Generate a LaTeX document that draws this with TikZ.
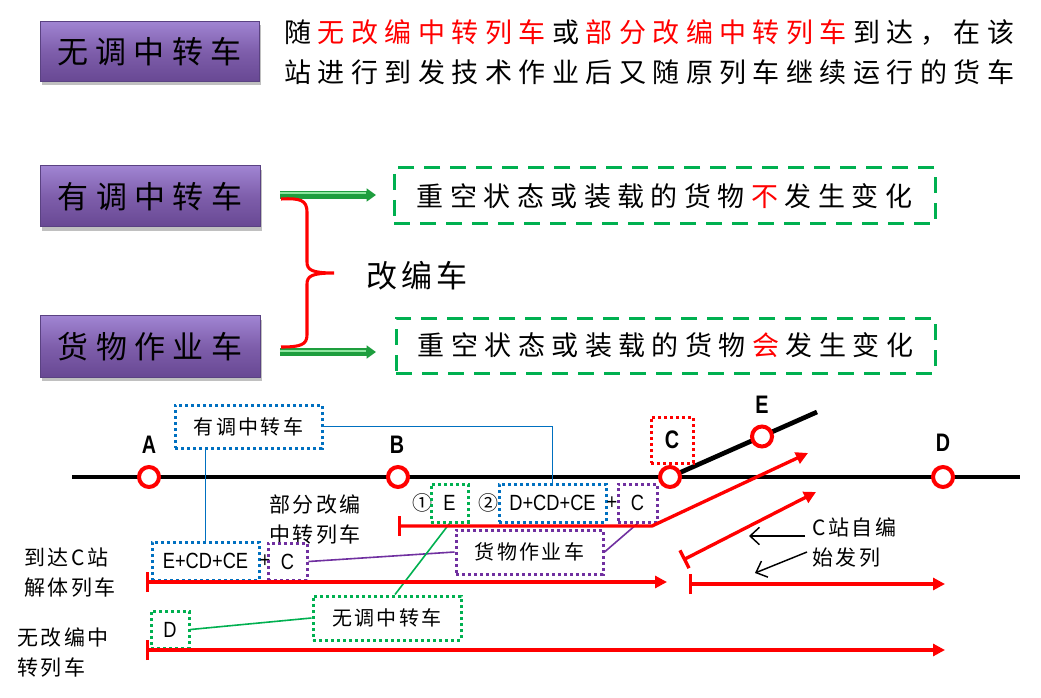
\documentclass[tikz,border=0pt]{standalone}
\usepackage{fontspec}
\usepackage{graphicx}
\usetikzlibrary{arrows.meta,shadows,calc}
\setmainfont{Noto Sans CJK SC}
\newfontfamily\cjkT[LetterSpace=24]{Noto Sans CJK SC}
\newfontfamily\cjkS[LetterSpace=12]{Noto Sans CJK SC}
\newfontfamily\latf{Liberation Sans}
\newcommand\narrowlat[1]{\scalebox{0.83}[1]{\latf #1}}
\newcommand\boldlat[1]{\scalebox{0.78}[1]{\latf\bfseries #1}}
\newcommand\lsk{\kern0.24em}
\definecolor{pTop}{HTML}{A084D2}
\definecolor{pMid}{HTML}{7E5EAB}
\definecolor{pBot}{HTML}{684893}
\definecolor{pBord}{HTML}{5A4282}
\definecolor{gGreen}{HTML}{00B050}
\definecolor{bBlue}{HTML}{0070C0}
\definecolor{pPurp}{HTML}{7030A0}
\definecolor{gDark}{HTML}{1E9E3E}
\definecolor{gLight}{HTML}{8EE6A0}
\tikzset{
 wh/.style 2 args={minimum width=#1*0.75pt, minimum height=#2*0.75pt, inner sep=0pt},
 pbox/.style={draw=pBord, line width=0.75pt, top color=pTop, bottom color=pBot, middle color=pMid,
   drop shadow={shadow xshift=1.5pt, shadow yshift=-3pt, opacity=0.35, fill=black!70},
   font=\cjkT\fontsize{23.25pt}{28pt}\selectfont},
 gdash/.style={draw=gGreen, line width=2.25pt, dash pattern=on 12pt off 7.5pt,
   font=\cjkT\fontsize{20.25pt}{24pt}\selectfont},
 dotbox/.style={draw=#1, line width=2.25pt, dash pattern=on 2.5pt off 2pt},
 cjklbl/.style={font=\cjkS\fontsize{15pt}{22.5pt}\selectfont},
 cjkmid/.style={font=\cjkS\fontsize{15.75pt}{22.5pt}\selectfont, align=left, inner sep=0pt},
 latlbl/.style={font=\fontsize{16.5pt}{20pt}\selectfont},
 stlbl/.style={font=\fontsize{19pt}{22pt}\selectfont},
 stn/.style={circle, draw=red, fill=white, line width=3pt, minimum size=15pt, inner sep=0pt},
 track/.style={line width=3.5pt, draw=black},
 redarr/.style={draw=red, line width=2.5pt, arrows={Bar[width=15pt]-Triangle[length=9pt,width=9pt]}},
 conn/.style={draw=#1, line width=1.2pt},
 blkarr/.style={draw=black, line width=1.1pt, -{Straight Barb[length=7pt,width=13pt]}},
 garr/.style={draw=gDark, line width=5.5pt, -{Triangle[length=7pt,width=9.5pt]}},
}
\begin{document}
\begin{tikzpicture}[x=0.75pt,y=-0.75pt]
\useasboundingbox (0,0) rectangle (1041,698);
\fill[white] (0,0) rectangle (1041,698);

% ---------- top part ----------
\node[pbox, wh={219}{60}] (pb1) at (149.5,51.5) {无调中转车};
\node[pbox, wh={220}{61}] (pb2) at (150,196.5) {有调中转车};
\node[pbox, wh={220}{61}] (pb3) at (150,346.5) {货物作业车};

\node[anchor=west, inner sep=0pt, font=\cjkT\fontsize{20.25pt}{24pt}\selectfont] (t1) at (284,33)
  {随\lsk\textcolor{red}{无改编中转列车}\lsk 或\lsk\textcolor{red}{部分改编中转列车}\lsk 到达，在该};
\node[anchor=west, inner sep=0pt, font=\cjkT\fontsize{20.25pt}{24pt}\selectfont] (t2) at (284,72)
  {站进行到发技术作业后又随原列车继续运行的货车};

\node[gdash, wh={541}{56}] (gb1) at (664.5,196) {重空状态或装载的货物\lsk\textcolor{red}{不}\lsk 发生变化};
\node[gdash, wh={539}{55}] (gb2) at (665.5,345.5) {重空状态或装载的货物\lsk\textcolor{red}{会}\lsk 发生变化};

\coordinate (ga1s) at (280,195);
\coordinate (ga1e) at (376,195);
\coordinate (ga2s) at (280,352);
\coordinate (ga2e) at (376,352);
\draw[garr] (ga1s) -- (ga1e);
\draw[draw=gLight, line width=1.5pt] ($(ga1s)+(0,-1.5)$) -- ($(ga1e)+(-10,-1.5)$);
\draw[garr] (ga2s) -- (ga2e);
\draw[draw=gLight, line width=1.5pt] ($(ga2s)+(0,-1.5)$) -- ($(ga2e)+(-10,-1.5)$);

% brace
\draw[red, line width=2.3pt]
  (281,199) .. controls (300,198) and (307,200) .. (307,212) -- (307,262)
  .. controls (307,270) and (312,273) .. (334,273)
  .. controls (312,273) and (307,276) .. (307,284) -- (307,335)
  .. controls (307,345) and (300,347) .. (281,347);
\node[font=\cjkS\fontsize{23.25pt}{28pt}\selectfont, inner sep=0pt] (gbc) at (417,276) {改编车};

% ---------- bottom diagram ----------
\coordinate (tl) at (72,477);
\coordinate (tr) at (1020,477);
\coordinate (brE) at (817,412);
\draw[track] (tl) -- (tr);
\coordinate (cC) at (670,477);
\draw[track] (cC) -- (brE);

\node[stn] (stA) at (149,477) {};
\node[stn] (stB) at (398,477) {};
\node[stn] (stC) at (670,477) {};
\node[stn] (stD) at (943,477) {};
\node[stn] (stE) at (762,436.5) {};

\node[stlbl] (lA) at (149,445) {\boldlat{A}};
\node[stlbl] (lB) at (397,445) {\boldlat{B}};
\node[stlbl] (lD) at (943,443) {\boldlat{D}};
\node[stlbl] (lE) at (762,405) {\boldlat{E}};
\node[dotbox=red, wh={42}{46}, stlbl] (lC) at (672,440) {\boldlat{C}};

% blue top box
\node[dotbox=bBlue, wh={147}{43}, cjklbl] (yb) at (248.5,426.5) {有调中转车};

% row on red line 1
\node[cjklbl, inner sep=0pt] (n1) at (422,503) {①};
\node[dotbox=gGreen, wh={37}{38}, latlbl] (bE) at (449.5,503) {\narrowlat{E}};
\node[cjklbl, inner sep=0pt] (n2) at (488,503) {②};
\node[dotbox=bBlue, wh={107}{38}, latlbl] (bDCD) at (552.5,503) {\narrowlat{D+CD+CE}};
\node[latlbl, inner sep=0pt] (pl1) at (612,503) {\narrowlat{+}};
\node[dotbox=pPurp, wh={39}{38}, latlbl] (bC1) at (637.5,503) {\narrowlat{C}};

\node[cjkmid] (lbPart) at (315,520) {部分改编\\中转列车};

% cargo box
\node[dotbox=pPurp, wh={147}{44}, cjklbl] (hw) at (529.5,552) {货物作业车};

% row on red line 2
\node[dotbox=bBlue, wh={107}{38}, latlbl] (bECD) at (205.5,561) {\narrowlat{E+CD+CE}};
\node[latlbl, inner sep=0pt] (pl2) at (265,561) {\narrowlat{+}};
\node[dotbox=pPurp, wh={39}{37}, latlbl] (bC2) at (287.5,561.5) {\narrowlat{C}};
\node[cjkmid] (lbArr) at (70,573) {到达C站\\解体列车};

% row on red line 5
\node[dotbox=gGreen, wh={38}{37}, latlbl] (bD) at (170,629.5) {\narrowlat{D}};
\node[dotbox=gGreen, wh={148}{44}, cjklbl] (wt) at (387,618) {无调中转车};
\node[cjkmid, anchor=west] (lbNo) at (17,653) {无改编中\\转列车};

% C station own trains
\node[cjkmid, anchor=north west] (lbSelf) at (812,517) {C站自编\\始发列};

% connectors
\draw[conn=bBlue] (bECD.north |- yb.south) -- (bECD.north);
\draw[conn=bBlue] (yb.east) -| (bDCD.north);
\draw[conn=pPurp] (bC1.south) -- (hw.east);
\draw[conn=pPurp] (hw.west) -- (bC2.east);
\draw[conn=gGreen] (bD.east) -- (wt.west);
\draw[conn=gGreen] ($(wt.north)+(8,0)$) -- (bE.south);

% red train lines
\coordinate (r1s) at (398,526);
\coordinate (r1k) at (652,526);
\coordinate (r1e) at (808,453);
\draw[redarr] (r1s) -- (r1k) -- (r1e);
\coordinate (r2s) at (146,582);
\coordinate (r2e) at (667,582);
\draw[redarr] (r2s) -- (r2e);
\coordinate (r3s) at (689,584);
\coordinate (r3e) at (945,584);
\draw[redarr] (r3s) -- (r3e);
\coordinate (r4s) at (683,560);
\coordinate (r4e) at (816,492);
\draw[redarr] (r4s) -- (r4e);
\coordinate (r5s) at (146,650);
\coordinate (r5e) at (945,650);
\draw[redarr] (r5s) -- (r5e);

% black pointer arrows
\coordinate (ba1s) at (805,536);
\coordinate (ba1e) at (749,536);
\coordinate (ba2s) at (807,552);
\coordinate (ba2e) at (755,573);
\draw[blkarr] (ba1s) -- (ba1e);
\draw[blkarr] (ba2s) -- (ba2e);
\end{tikzpicture}
\end{document}
